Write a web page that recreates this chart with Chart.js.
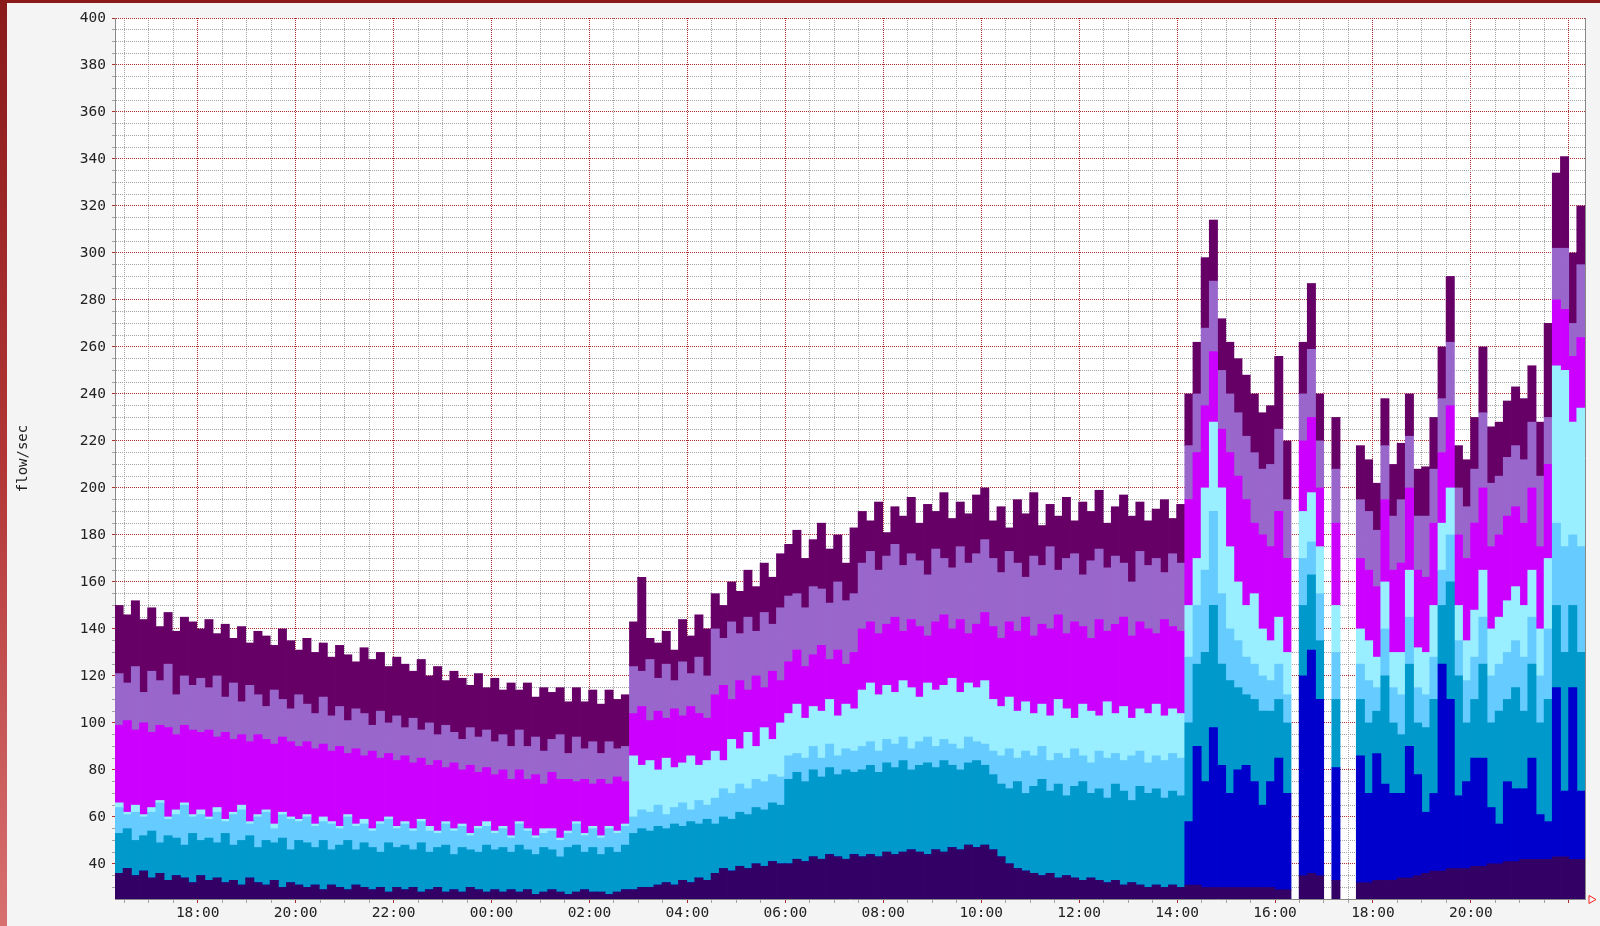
<!DOCTYPE html>
<html><head><meta charset="utf-8">
<script src="https://cdn.jsdelivr.net/npm/chart.js@4.4.1/dist/chart.umd.min.js"></script>
<style>
html,body{margin:0;padding:0;background:#f4f4f4;width:1600px;height:926px;overflow:hidden;}
canvas{position:absolute;left:0;top:0;}
#lb{position:absolute;left:0;top:0;width:7px;height:926px;background:linear-gradient(#8a1a1a,#b23636 50%,#d87070);}
#tb{position:absolute;left:0;top:0;width:1600px;height:3px;background:#8a1a1a;}
</style></head><body>
<canvas id="c" width="1600" height="926"></canvas>
<div id="lb"></div><div id="tb"></div>
<script>
// 10-minute slots starting 16:19, 30 hours (180 slots)
const startMinute = 16 * 60 + 19;
const slotMinutes = 10;
const yTitle = 'flow/sec';

const indigo = [
36,38,35,37,34,36,33,35,34,32,35,
33,34,32,33,31,34,32,31,33,30,32,31,
30,31,29,31,30,29,31,30,29,30,28,30,
29,30,28,29,30,28,29,28,30,29,28,29,
28,29,28,29,27,28,29,28,27,28,29,28,
28,27,28,29,
29,30,30,31,32,31,33,32,34,33,
36,38,37,39,38,40,39,41,40,
40,42,41,43,42,44,43,42,44,
43,44,43,45,44,45,46,45,44,46,45,47,46,48,47,48,
46,43,40,38,37,36,35,36,34,35,34,33,34,33,32,33,31,32,31,30,31,30,31,30,
31,31,30,30,30,30,30,30,30,30,30,29,29,null,35,36,35,null,33,null,null,32,32,33,33,33,34,34,35,36,37,37,38,38,38,39,39,40,40,41,41,42,42,42,42,43,43,42,42];

const blue = [
0,0,0,0,0,0,0,0,0,0,
0,0,0,0,0,0,0,0,0,0,
0,0,0,0,0,0,0,0,0,0,
0,0,0,0,0,0,0,0,0,0,
0,0,0,0,0,0,0,0,0,0,
0,0,0,0,0,0,0,0,0,0,
0,0,0,0,0,0,0,0,0,0,
0,0,0,0,0,0,0,0,0,0,
0,0,0,0,0,0,0,0,0,0,
0,0,0,0,0,0,0,0,0,0,
0,0,0,0,0,0,0,0,0,0,
0,0,0,0,0,0,0,0,0,0,
0,0,0,0,0,0,0,0,0,0,
0,
27,59,45,68,52,40,50,52,45,35,45,56,41,null,85,95,75,null,48,null,null,54,38,54,41,37,36,56,43,26,33,88,72,31,37,46,46,24,17,34,31,30,43,19,16,72,28,73,29];

const teal = [
17,17,15,15,20,13,19,16,14,21,15,
18,15,21,15,19,18,15,19,16,21,14,19,
19,16,21,15,18,21,15,19,18,15,21,17,
19,16,21,16,17,20,15,19,16,16,20,17,
19,16,20,17,17,19,17,15,20,20,16,19,
16,20,17,19,
24,25,24,25,23,26,23,26,23,26,
21,22,22,23,23,24,24,25,25,
36,37,34,37,35,37,35,38,35,
37,38,36,38,37,39,34,37,39,35,39,35,34,35,37,34,
32,31,32,37,33,37,41,35,40,34,39,42,36,39,36,41,40,35,42,40,41,38,40,39,
42,35,55,52,43,48,35,30,35,40,30,25,30,null,30,32,25,null,29,null,null,24,30,18,46,30,25,35,22,36,40,25,50,51,25,25,40,36,48,35,43,33,40,39,52,35,59,35,59];

const lightBlue = [
11,6,12,8,8,17,7,10,17,7,11,
8,13,5,13,13,5,13,12,6,10,13,8,
11,9,8,11,7,10,10,8,7,12,10,8,
9,8,9,9,6,9,10,9,6,10,8,7,
8,6,9,8,7,6,8,7,6,9,7,8,
7,8,8,8,
7,8,8,9,6,7,10,5,10,6,
11,12,11,12,11,12,12,12,12,
10,8,10,10,8,10,8,9,9,
10,10,9,10,10,10,9,10,11,9,9,9,9,11,8,9,
10,12,17,10,18,13,14,13,13,16,16,11,13,16,17,13,13,19,15,13,14,16,16,16,
28,25,35,40,30,22,20,16,15,15,13,15,12,null,20,14,20,null,20,null,null,15,18,10,20,15,17,20,15,14,18,15,20,15,18,18,20,20,20,20,20,23,20,20,30,35,45,30,45];

const cyan = [
2,1,3,1,2,1,1,2,1,1,2,
1,2,1,1,2,1,1,1,2,1,1,1,
1,1,2,1,1,1,1,2,1,1,1,1,
1,1,1,2,1,1,1,1,1,1,2,1,
1,1,1,1,1,2,1,1,1,1,1,1,
1,1,1,1,
26,19,22,15,24,17,17,23,15,19,
20,12,23,15,24,14,23,15,23,
18,21,17,17,20,19,17,19,18,
24,25,24,23,22,24,26,19,23,24,23,28,24,23,23,27,
22,21,22,20,21,18,18,19,23,21,13,22,22,15,24,17,23,16,18,21,22,19,19,19,
22,20,35,38,45,35,25,22,30,20,17,20,18,null,20,21,20,null,20,null,null,15,17,13,20,15,18,20,17,18,22,20,20,15,17,20,20,20,20,22,23,22,20,20,30,67,75,48,59];

const magenta = [
33,39,32,39,32,32,38,32,33,36,33,
37,30,37,31,30,34,34,30,34,32,32,31,
31,32,31,30,34,26,32,27,33,27,27,28,
28,28,26,26,30,23,28,23,29,23,23,24,
24,24,22,21,26,19,24,25,22,17,23,18,
24,18,23,18,
18,25,17,25,17,25,20,21,22,18,
24,32,17,29,18,30,17,29,18,
22,23,22,22,28,17,28,17,24,
26,26,26,26,32,21,29,30,20,29,30,21,31,21,27,29,
31,29,32,34,36,33,34,37,36,32,41,33,31,41,30,38,38,35,37,36,30,41,35,35,
45,45,35,30,25,40,45,45,30,40,40,45,40,null,30,32,25,null,35,null,null,30,30,30,35,35,38,35,33,32,35,30,35,30,35,37,35,35,35,36,34,35,35,35,40,28,26,28,30];

const lavender = [
22,16,27,13,26,19,27,17,21,19,23,
18,26,15,24,14,24,17,14,23,16,14,22,
16,15,20,15,17,14,17,18,11,20,13,19,
12,19,12,18,11,18,13,13,16,15,16,14,
15,14,17,14,16,14,14,19,11,19,13,18,
11,18,12,15,
20,15,26,14,23,12,23,14,24,18,
28,20,33,20,31,19,32,20,31,
28,24,25,29,24,24,29,27,25,
28,30,27,29,31,28,28,28,26,31,24,26,31,30,30,31,
29,28,30,29,17,34,25,35,19,32,29,22,33,30,27,29,23,23,30,27,32,20,31,29,
23,25,33,30,25,25,27,27,30,28,35,35,25,null,20,29,20,null,23,null,null,25,25,24,23,23,27,22,23,26,23,23,27,20,22,23,32,27,25,25,26,27,28,30,20,22,26,14,31];

const purple = [
29,29,28,31,27,23,22,27,25,27,21,
29,18,31,19,32,18,27,30,19,30,29,19,
28,26,23,25,26,28,20,28,28,25,24,25,
27,20,30,20,29,19,26,26,18,27,18,27,
19,27,17,27,17,27,20,20,22,21,20,22,
21,22,21,22,
19,40,9,15,14,13,18,16,18,20,
15,14,17,18,20,19,21,20,23,
22,27,21,20,28,23,20,16,28,
22,13,29,10,16,21,24,16,30,16,28,21,19,21,25,22,
16,28,10,27,27,27,17,18,23,26,14,31,21,25,19,21,29,28,21,19,21,31,15,25,
22,22,30,26,22,22,23,26,25,24,25,31,25,null,22,28,20,null,22,null,null,23,22,20,20,22,24,18,20,21,22,22,28,18,20,22,28,24,23,24,25,26,24,23,40,32,39,30,25];

const seriesList = [indigo, blue, teal, lightBlue, cyan, magenta, lavender, purple];
const seriesColors = ['#330066', '#0000CC', '#0099CC', '#66CCFF', '#99EEFF', '#CC00FF', '#9966CC', '#660066'];

// categories: slot start times
const categories = indigo.map((_, i) => {
  const m = (startMinute + i * slotMinutes) % 1440;
  return String(Math.floor(m / 60)).padStart(2, '0') + ':' + String(m % 60).padStart(2, '0');
});

const X_MIN = 16.3111, X_MAX = 46.33; // hours (next day = 24+)
const Y_MIN = 25.1, Y_MAX = 400;
const LAST_LABEL_HOUR = 44;
const RED = '#b03030', GRAY = '#a4a4a4';
const FONT = {family: 'DejaVu Sans Mono', size: 14.5};

function isEvenHour(v) { const r = Math.round(v); return Math.abs(v - r) < 1e-6 && r % 2 === 0; }
function isMajorY(v) { return Math.abs(v / 20 - Math.round(v / 20)) < 1e-6; }

const bgPlugin = {
  id: 'bg',
  beforeDraw(chart) {
    const {ctx, chartArea: a} = chart;
    ctx.save(); ctx.fillStyle = '#ffffff';
    ctx.fillRect(a.left, a.top, a.right - a.left, a.bottom - a.top);
    ctx.restore();
  },
  afterDraw(chart) {
    const {ctx, chartArea: a} = chart;
    ctx.save();
    ctx.strokeStyle = '#888888'; ctx.lineWidth = 1;
    ctx.beginPath(); ctx.moveTo(Math.round(a.right) + 0.5, a.top); ctx.lineTo(Math.round(a.right) + 0.5, a.bottom); ctx.stroke();
    ctx.strokeStyle = '#ff2020';
    const ax = Math.round(a.right) + 4, ay = Math.round(a.bottom) + 0.5;
    ctx.beginPath(); ctx.moveTo(ax, ay - 4); ctx.lineTo(ax + 7, ay); ctx.lineTo(ax, ay + 4); ctx.closePath(); ctx.stroke();
    ctx.restore();
  }
};

new Chart(document.getElementById('c'), {
  type: 'bar',
  data: {
    labels: categories,
    datasets: seriesList.map((d, i) => ({
      data: d, backgroundColor: seriesColors[i], borderWidth: 0,
      barPercentage: 1, categoryPercentage: 1, inflateAmount: 0.4,
      xAxisID: 'x', yAxisID: 'y'
    }))
  },
  options: {
    responsive: false, animation: false,
    layout: {padding: {left: 0, top: 18, right: 15, bottom: 0}},
    plugins: {legend: {display: false}, tooltip: {enabled: false}},
    scales: {
      x: {type: 'category', display: false, stacked: true, offset: true},
      xt: {
        type: 'linear', axis: 'x', position: 'bottom', min: X_MIN, max: X_MAX, z: 1,
        offset: false,
        afterFit(s) { s.height = 27; },
        ticks: {stepSize: 0.5, includeBounds: false, autoSkip: false, maxRotation: 0, minRotation: 0,
          padding: 2, color: '#222', font: FONT,
          callback: v => (isEvenHour(v) && v <= LAST_LABEL_HOUR) ? String(Math.round(v) % 24).padStart(2, '0') + ':00' : ''},
        grid: {offset: false, color: c => (c.tick && isEvenHour(c.tick.value)) ? RED : GRAY, lineWidth: 1,
          tickLength: 4, tickColor: c => (c.tick && isEvenHour(c.tick.value)) ? RED : GRAY},
        border: {display: true, color: '#888888', width: 1, dash: [1, 1]}
      },
      y: {
        type: 'linear', stacked: true, min: Y_MIN, max: Y_MAX, z: 1,
        afterFit(s) { s.width = 115; },
        ticks: {stepSize: 5, includeBounds: false, autoSkip: false, padding: 6, color: '#222', font: FONT,
          callback: v => isMajorY(v) ? String(Math.round(v)) : ''},
        grid: {color: c => (c.tick && isMajorY(c.tick.value)) ? RED : GRAY, lineWidth: 1,
          tickLength: 3, tickColor: c => (c.tick && isMajorY(c.tick.value)) ? RED : GRAY},
        border: {display: true, color: '#888888', width: 1, dash: [1, 1]},
        title: {display: true, text: yTitle, color: '#222', font: {family: 'DejaVu Sans Mono', size: 14},
          padding: {top: 14.6, bottom: 0}}
      }
    }
  },
  plugins: [bgPlugin]
});
</script>
</body></html>
